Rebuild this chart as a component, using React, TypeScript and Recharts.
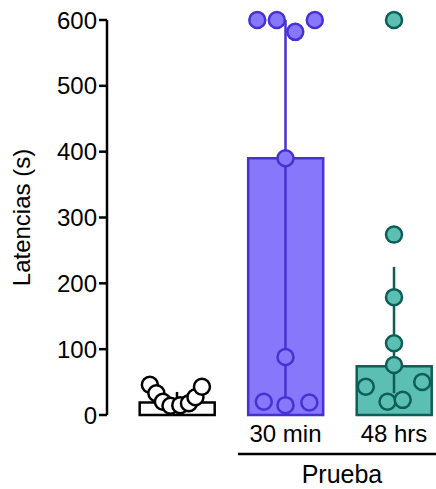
import { ComposedChart, Bar, Scatter, XAxis, YAxis, ReferenceLine } from 'recharts';

// groups: control, 30 min, 48 hrs
const groupX = [0, 1, 2];
const tickLabels = ['', '30 min', '48 hrs'];
const means = [19, 390, 74];
const errLow = [5, 15, 33];
const errHigh = [35, 600, 225];

const fills = ['#ffffff', '#8677fb', '#5bbfb3'];
const strokes = ['#000000', '#4632d2', '#0e5e56'];

// individual points: x = jitter around the group position, y = latency
const ctrlX = [-0.25, -0.19, -0.13, -0.06, 0.03, 0.11, 0.17, 0.23];
const ctrlY = [46, 33, 20, 14, 15, 18, 27, 43];
const min30X = [-0.26, -0.08, 0.09, 0.27, 0, 0, -0.2, 0, 0.22];
const min30Y = [600, 600, 582, 600, 390, 88, 20, 15, 19];
const hrs48X = [0, 0, 0, 0, 0, -0.26, 0.26, -0.06, 0.08];
const hrs48Y = [600, 274, 179, 109, 76, 43, 50, 20, 23];

const barData = groupX.map((x, i) => ({ x, mean: means[i], idx: i }));
const toPoints = (g: number, xs: number[], ys: number[]) => xs.map((d, i) => ({ x: groupX[g] + d, y: ys[i] }));
const pointSets = [toPoints(0, ctrlX, ctrlY), toPoints(1, min30X, min30Y), toPoints(2, hrs48X, hrs48Y)];

const font = '"Liberation Sans", Arial, sans-serif';
const BAR_W = 75;

const dot = (fill: string, stroke: string) => (props: any) => (
  <circle cx={props.cx} cy={props.cy} r={8} fill={fill} stroke={stroke} strokeWidth={2.5} />
);

const BarShape = (props: any) => {
  const { x, y, width, height, payload } = props;
  const cx = x + width / 2;
  const i = payload.idx;
  return (
    <rect x={cx - BAR_W / 2} y={y} width={BAR_W} height={height} fill={fills[i]} stroke={strokes[i]} strokeWidth={2.5} />
  );
};

const GroupLabel = (props: any) => {
  const { x, y, width } = props.viewBox;
  const x1 = x + width * 0.398;
  const x2 = x + width;
  return (
    <g>
      <line x1={x1} x2={x2} y1={y + 39} y2={y + 39} stroke="#000" strokeWidth={2.5} />
      <text x={(x1 + x2) / 2 + 5} y={y + 68} textAnchor="middle" fontSize={25} fontFamily={font} fill="#000">
        Prueba
      </text>
    </g>
  );
};

const YLabel = (props: any) => {
  const { y, height } = props.viewBox;
  const cx = 30;
  const cy = y + height / 2;
  return (
    <text x={cx} y={cy} transform={`rotate(-90, ${cx}, ${cy})`} textAnchor="middle" fontSize={24} fontFamily={font} fill="#000">
      Latencias (s)
    </text>
  );
};

export default function App() {
  return (
    <div style={{ fontFamily: font }}>
      <style>{'body { margin: 0; }'}</style>
      <ComposedChart width={436} height={489} data={barData} margin={{ top: 20, right: 0, bottom: 0, left: 0 }}>
        <XAxis
          dataKey="x"
          type="number"
          domain={[-0.645, 2.387]}
          allowDataOverflow
          ticks={groupX}
          tickFormatter={(v: number) => tickLabels[groupX.indexOf(v)] ?? ''}
          axisLine={false}
          tickLine={false}
          tickSize={8}
          tick={{ fontSize: 24, fill: '#000', fontFamily: font }}
          height={74}
          label={<GroupLabel />}
        />
        <YAxis
          type="number"
          domain={[0, 600]}
          ticks={[0, 100, 200, 300, 400, 500, 600]}
          width={107}
          tickSize={8}
          axisLine={{ stroke: '#000', strokeWidth: 2.5 }}
          tickLine={{ stroke: '#000', strokeWidth: 2.5 }}
          tick={{ fontSize: 24, fill: '#000', fontFamily: font }}
          label={<YLabel />}
        />
        <Bar dataKey="mean" isAnimationActive={false} shape={<BarShape />} />
        {groupX.map((x, i) => (
          <ReferenceLine
            key={`err-${i}`}
            segment={[{ x, y: errLow[i] }, { x, y: errHigh[i] }]}
            stroke={strokes[i]}
            strokeWidth={2.5}
          />
        ))}
        {pointSets.map((pts, i) => (
          <Scatter
            key={`pts-${i}`}
            data={pts}
            dataKey="y"
            isAnimationActive={false}
            shape={dot(fills[i], strokes[i])}
          />
        ))}
      </ComposedChart>
    </div>
  );
}
